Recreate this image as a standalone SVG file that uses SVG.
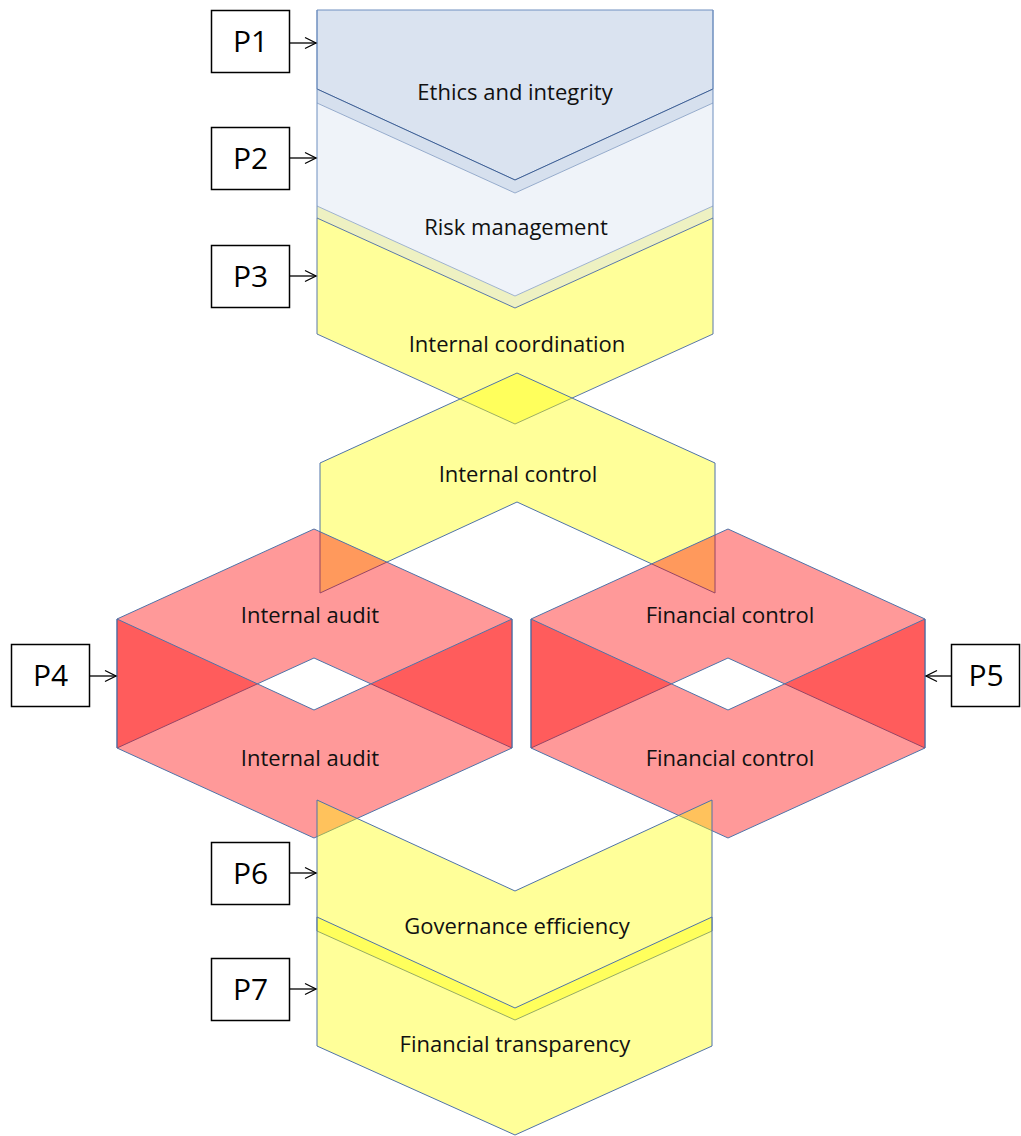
<svg xmlns="http://www.w3.org/2000/svg" width="1021" height="1136" viewBox="0 0 1021 1136">
<defs>
<marker id="arr" markerUnits="userSpaceOnUse" markerWidth="14" markerHeight="14" refX="12" refY="7" orient="auto">
<path d="M1,1.5 L12,7 L1,12.5" fill="none" stroke="#000" stroke-width="1.3"/>
</marker>
</defs>
<style>
.lbl{font-family:"Open Sans","Liberation Sans",sans-serif;font-size:22px;fill:#111;text-anchor:middle}
.plbl{font-family:"Open Sans","Liberation Sans",sans-serif;font-size:30px;fill:#000;text-anchor:middle}
.pbox{fill:#fff;stroke:#000;stroke-width:1.5}
.yel{fill:#ffff00;fill-opacity:0.4;stroke:#4f73a8;stroke-width:1}
.red{fill:#ff0000;fill-opacity:0.4;stroke:#4f73a8;stroke-width:1}
.edge{stroke:#6f8fbf;stroke-width:1;fill:none}
.conn{stroke:#000;stroke-width:1.3;fill:none}
</style>

<g id="n-ethics">
<polygon points="317,10 713,10 713,89 515,180 317,89" fill="#dae3f0" stroke="#6f8fbf" stroke-width="1"/>
<polygon points="317,89 515,180 713,89 713,103 515,193 317,103" fill="#d6e0ee"/>
<polyline points="317,89 515,180 713,89" fill="none" stroke="#3e5f94" stroke-width="1"/>
<text class="lbl" x="515" y="100">Ethics and integrity</text>
</g>

<g id="n-risk">
<polygon points="317,103 515,193 713,103 713,206 515,296 317,206" fill="#eff3f9"/>
<polyline points="317,103 515,193 713,103" fill="none" stroke="#95abcc" stroke-width="1"/>
<polygon points="317,206 515,296 713,206 713,218 515,308 317,218" fill="#eef1c2"/>
<polyline points="317,206 515,296 713,206" fill="none" stroke="#9fb3cf" stroke-width="1"/>
<line x1="317" y1="10" x2="317" y2="218" class="edge"/>
<line x1="713" y1="10" x2="713" y2="218" class="edge"/>
<text class="lbl" x="516" y="235">Risk management</text>
</g>

<g id="n-coordination">
<polygon points="317,218 515,308 713,218 713,334 515,424 317,334" fill="#ffff99" stroke="#5a78a8" stroke-width="1"/>
<text class="lbl" x="517" y="352">Internal coordination</text>
</g>

<g id="n-control">
<polygon points="517,373 715,463 715,593 517,502 320,593 320,463" class="yel"/>
<text class="lbl" x="518" y="482">Internal control</text>
</g>

<g id="n-audit-top">
<polygon points="314,529 512,619 512,748 314,658 117,748 117,619" class="red"/>
<text class="lbl" x="310" y="623">Internal audit</text>
</g>
<g id="n-audit-bottom">
<polygon points="117,619 314,710 512,619 512,748 314,838 117,748" class="red"/>
<text class="lbl" x="310" y="766">Internal audit</text>
</g>

<g id="n-fincontrol-top">
<polygon points="728,529 925,619 925,748 728,658 531,748 531,619" class="red"/>
<text class="lbl" x="730" y="623">Financial control</text>
</g>
<g id="n-fincontrol-bottom">
<polygon points="531,619 728,710 925,619 925,748 728,838 531,748" class="red"/>
<text class="lbl" x="730" y="766">Financial control</text>
</g>

<g id="n-governance">
<polygon points="317,800 515,891 712,800 712,931 515,1020 317,931" class="yel"/>
<text class="lbl" x="517" y="934">Governance efficiency</text>
</g>
<g id="n-transparency">
<polygon points="317,917 515,1008 712,917 712,1046 515,1135 317,1046" class="yel"/>
<text class="lbl" x="515" y="1052">Financial transparency</text>
</g>

<g id="n-p1"><rect class="pbox" x="211.5" y="10.5" width="78" height="62"/><text class="plbl" x="250.5" y="52">P1</text></g>
<g id="n-p2"><rect class="pbox" x="211.5" y="127.5" width="78" height="62"/><text class="plbl" x="250.5" y="169">P2</text></g>
<g id="n-p3"><rect class="pbox" x="211.5" y="245.5" width="78" height="62"/><text class="plbl" x="250.5" y="287">P3</text></g>
<g id="n-p4"><rect class="pbox" x="11.5" y="644.5" width="78" height="62"/><text class="plbl" x="50.5" y="686">P4</text></g>
<g id="n-p5"><rect class="pbox" x="951.5" y="644.5" width="68" height="62"/><text class="plbl" x="986" y="686">P5</text></g>
<g id="n-p6"><rect class="pbox" x="211.5" y="842.5" width="78" height="62"/><text class="plbl" x="250.5" y="884">P6</text></g>
<g id="n-p7"><rect class="pbox" x="211.5" y="958.5" width="78" height="62"/><text class="plbl" x="250.5" y="1000">P7</text></g>

<g id="connectors">
<line class="conn" x1="290" y1="43" x2="316" y2="43" marker-end="url(#arr)"/>
<line class="conn" x1="290" y1="158" x2="316" y2="158" marker-end="url(#arr)"/>
<line class="conn" x1="290" y1="276" x2="316" y2="276" marker-end="url(#arr)"/>
<line class="conn" x1="90" y1="676" x2="116" y2="676" marker-end="url(#arr)"/>
<line class="conn" x1="951" y1="676" x2="926" y2="676" marker-end="url(#arr)"/>
<line class="conn" x1="290" y1="873" x2="316" y2="873" marker-end="url(#arr)"/>
<line class="conn" x1="290" y1="989" x2="316" y2="989" marker-end="url(#arr)"/>
</g>
</svg>
